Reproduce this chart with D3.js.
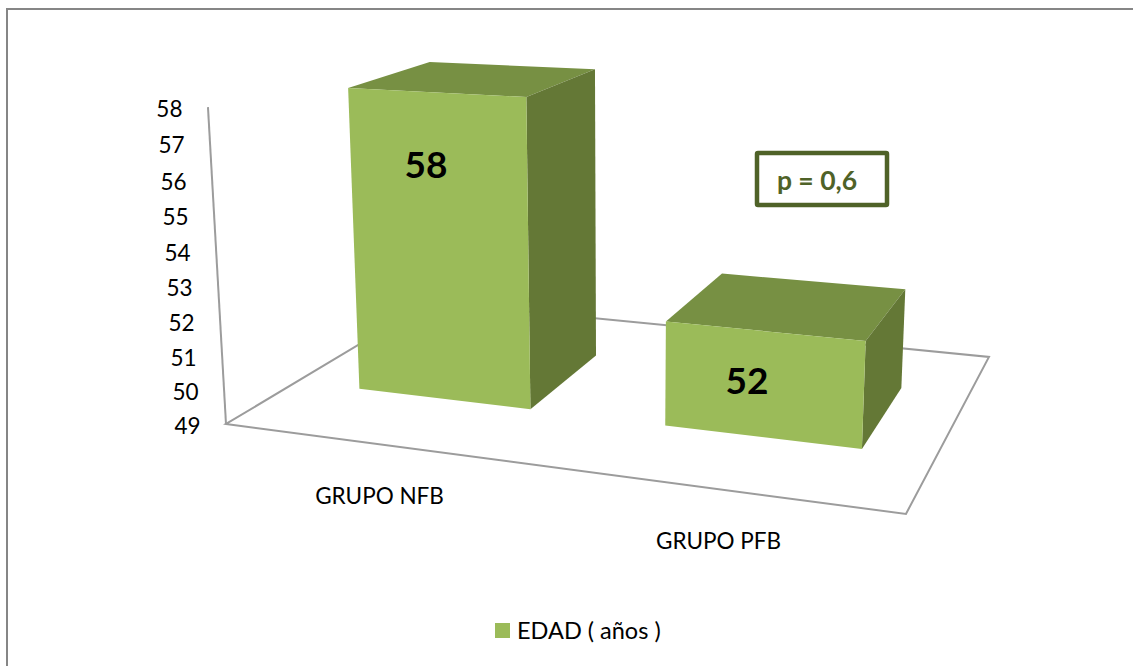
<!DOCTYPE html>
<html lang="es">
<head>
<meta charset="utf-8">
<title>EDAD por grupo</title>
<script src="https://cdn.jsdelivr.net/npm/d3@7"></script>
<style>
  html, body { margin: 0; padding: 0; background: #fff; }
  svg { display: block; }
  text { font-family: Lato, Carlito, "Open Sans", sans-serif; fill: #000; }
</style>
</head>
<body>
<svg id="chart" width="1133" height="666"></svg>
<script>
// Chart data
const categories = ["GRUPO NFB", "GRUPO PFB"];
const seriesName = "EDAD ( años )";
const edad = [58, 52];
const yTicks = [49, 50, 51, 52, 53, 54, 55, 56, 57, 58];
const pValueLabel = "p = 0,6";

// Palette
const FRONT = "#9bbb59", TOP = "#779043", SIDE = "#647836", GRID = "#9c9c9c", DARK = "#4f6228";

const svg = d3.select("#chart");

// Unit-cube coordinates: u along categories, w into the depth, t up the value axis
const uScale = d3.scaleBand().domain(categories).range([0, 1])
  .paddingInner(0.424).paddingOuter(0.212).align(0.519);
const wScale = d3.scaleBand().domain([seriesName]).range([0, 1])
  .paddingInner(0).paddingOuter(0.735).align(0.51);
const tScale = d3.scaleLinear().domain([49, 58]).range([0, 1]);

// Perspective camera for the 3-D box (3x4 projective matrix)
const camera = [
  [553.3, 306, -27.1, 226],
  [18.1, -50.4, -321.5, 424],
  [-0.1398, 0.2372, -0.0436, 1]
];
const project = (u, w, t) => {
  const v = [u, w, t, 1];
  const dot = row => d3.sum(row, (c, i) => c * v[i]);
  const d = dot(camera[2]);
  return [dot(camera[0]) / d, dot(camera[1]) / d];
};
const face = d3.line().curve(d3.curveLinearClosed);
const seg = d3.line();

// Outer chart frame: only the top and left edges fall inside the canvas
svg.append("path")
  .attr("d", seg([[7, 700], [7, 9], [1140, 9]]))
  .attr("fill", "none").attr("stroke", "#868686").attr("stroke-width", 2);

// Floor outline and value axis
const box = svg.append("g").attr("fill", "none").attr("stroke", GRID).attr("stroke-width", 2);
box.append("path").attr("d", face([[0, 0], [1, 0], [1, 1], [0, 1]].map(([u, w]) => project(u, w, 0))));
box.append("path").attr("d", seg([project(0, 0, 0), project(0, 0, 1)]));

// Value tick labels follow the slanted axis
svg.append("g").selectAll("text").data(yTicks).join("text")
  .attr("text-anchor", "end")
  .attr("font-size", 22.5)
  .attr("x", d => project(0, 0, tScale(d))[0] - 25.5)
  .attr("y", d => project(0, 0, tScale(d))[1] + 9.5)
  .text(d => d);

// Bars as three visible faces of a box
const bars = svg.append("g").selectAll("g")
  .data(categories.map((c, i) => ({ c, v: edad[i] })))
  .join("g");

const corners = d => {
  const u0 = uScale(d.c), u1 = u0 + uScale.bandwidth();
  const w0 = wScale(seriesName), w1 = w0 + wScale.bandwidth();
  return { u0, u1, w0, w1, t: tScale(d.v) };
};
bars.append("path").attr("fill", TOP).attr("d", d => {
  const { u0, u1, w0, w1, t } = corners(d);
  return face([project(u0, w0, t), project(u1, w0, t), project(u1, w1, t), project(u0, w1, t)]);
});
bars.append("path").attr("fill", SIDE).attr("d", d => {
  const { u1, w0, w1, t } = corners(d);
  return face([project(u1, w0, 0), project(u1, w1, 0), project(u1, w1, t), project(u1, w0, t)]);
});
bars.append("path").attr("fill", FRONT).attr("d", d => {
  const { u0, u1, w0, t } = corners(d);
  return face([project(u0, w0, 0), project(u1, w0, 0), project(u1, w0, t), project(u0, w0, t)]);
});

// Category labels sit below the front floor edge
svg.append("g").selectAll("text").data(categories).join("text")
  .attr("text-anchor", "middle")
  .attr("font-size", 22.5)
  .attr("x", d => project(uScale(d) + uScale.bandwidth() / 2, 0, 0)[0] - 0.5)
  .attr("y", d => project(uScale(d) + uScale.bandwidth() / 2, 0, 0)[1] + 60)
  .text(d => d);

// Value labels placed by hand on the bar fronts
const valueLabelAnchors = [[426, 178], [747, 394]];
svg.append("g").selectAll("text").data(edad).join("text")
  .attr("text-anchor", "middle")
  .attr("font-size", 37)
  .attr("font-weight", 700)
  .attr("x", (d, i) => valueLabelAnchors[i][0])
  .attr("y", (d, i) => valueLabelAnchors[i][1])
  .text(d => d);

// Significance note
svg.append("rect")
  .attr("x", 757).attr("y", 153).attr("width", 130).attr("height", 52)
  .attr("fill", "#fff").attr("stroke", DARK).attr("stroke-width", 4.5).attr("rx", 1);
svg.append("text")
  .attr("x", 817).attr("y", 190)
  .attr("text-anchor", "middle")
  .attr("font-size", 26.5).attr("font-weight", 700)
  .style("fill", DARK)
  .text(pValueLabel);

// Legend
const legend = svg.append("g");
legend.append("rect").attr("x", 495).attr("y", 623).attr("width", 15).attr("height", 15).attr("fill", FRONT);
legend.append("text").attr("x", 517).attr("y", 639).attr("font-size", 23.5).text(seriesName);
</script>
</body>
</html>
